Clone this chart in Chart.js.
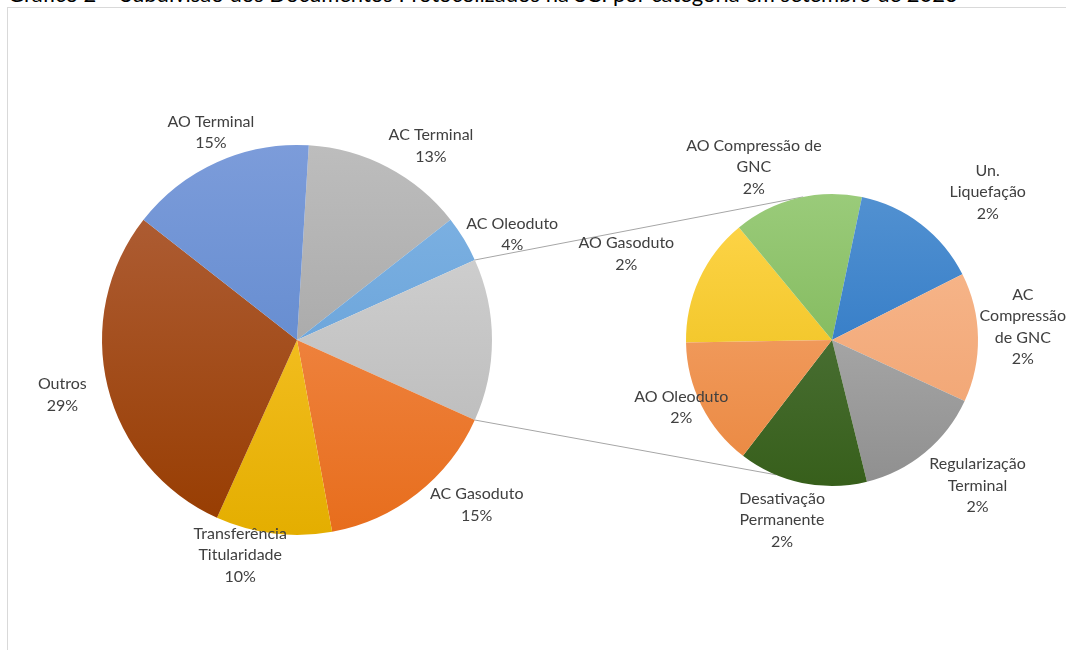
<!DOCTYPE html>
<html><head><meta charset="utf-8">
<script src="https://cdn.jsdelivr.net/npm/chart.js@4.4.1/dist/chart.umd.min.js"></script>
<style>
html,body{margin:0;padding:0;background:#fff;overflow:hidden;width:1066px;height:650px}
#title{position:absolute;left:8px;top:-17px;font:22px Lato, sans-serif;line-height:22px;color:#000;white-space:nowrap}
#frame{position:absolute;left:7px;top:7px;width:1200px;height:800px;border-left:1px solid #d9d9d9;border-top:1px solid #d9d9d9}
canvas{position:absolute;left:0;top:0}
</style></head><body>
<div id="title">Gráfico 2 – Subdivisão dos Documentos Protocolizados na SCI por categoria em setembro de 2023</div>
<div id="frame"></div>
<canvas id="c1" width="1066" height="650"></canvas>
<canvas id="c2" width="1066" height="650"></canvas>
<script>
// ---- data ----
const mainCategories = ['AC Terminal', 'AC Oleoduto', 'Demais categorias', 'AC Gasoduto', 'Transferência\nTitularidade', 'Outros', 'AO Terminal'];
const mainValues = [7, 2, null, 8, 5, 15, 8];   // null = aggregate of the secondary pie
const aggregateIndex = 2;
const subCategories = ['AO Gasoduto', 'AO Compressão de\nGNC', 'Un.\nLiquefação', 'AC\nCompressão\nde GNC', 'Regularização\nTerminal', 'Desativação\nPermanente', 'AO Oleoduto'];
const subValues = [1, 1, 1, 1, 1, 1, 1];

// ---- styles / layout ----
const mainColors = [['#bdbdbd','#9a9a9a'],['#82b5e5','#5a98d2'],['#d8d8d8','#b4b4b4'],['#f5955c','#e76d1c'],['#ffcb3c','#e4ae00'],['#b2633e','#973c00'],['#7c9cda','#5380c8']];
const subColors = [['#ffd64c','#e8bb10'],['#9acb7a','#72ae48'],['#5291d1','#1f6ec0'],['#f8bb92','#f0a06c'],['#bababa','#8f8f8f'],['#587c47','#375f1b'],['#f6aa74','#ea873f']];
// label placement: [angle deg clockwise from top, distance / radius]
const mainLabelPlace = [[34.6,1.21],[63.8,1.23],null,[132.5,1.25],[194.8,1.14],[256.8,1.236],[337.5,1.154]];
const subLabelPlace = [[292.7,1.527],[335.7,1.30],[46.5,1.47],[86.1,1.31],[135,1.41],[195.5,1.28],[246,1.13]];
const connectorTargets = [348.6, 202.6]; // angles on secondary pie
const LABEL_FONT = '16px Lato, sans-serif';
const LH = 21.5;

const aggValue = subValues.reduce((a,b)=>a+b,0);
const mainData = mainValues.map((v,i)=> i===aggregateIndex ? aggValue : v);
const total = mainData.reduce((a,b)=>a+b,0);
const pct = v => Math.round(v/total*100) + '%';

// rotation so that the aggregate slice is centred on the right (90°)
const before = mainData.slice(0, aggregateIndex).reduce((a,b)=>a+b,0);
const mainRotation = 90 - (before + aggValue/2)/total*360;

function grad(pairs){
  return (ctx)=>{
    const ch = ctx.chart, a = ch.chartArea;
    const p = pairs[ctx.dataIndex] || pairs[0];
    if(!a) return p[0];
    const g = ch.ctx.createLinearGradient(0, a.top, 0, a.bottom);
    g.addColorStop(0, p[0]); g.addColorStop(1, p[1]);
    return g;
  };
}

function labelPlugin(id, cats, values, place){
  return {id, afterDatasetsDraw(chart){
    const arcs = chart.getDatasetMeta(0).data;
    const c = chart.ctx;
    c.save();
    c.font = LABEL_FONT; c.fillStyle = '#404040'; c.textAlign = 'center'; c.textBaseline = 'middle';
    cats.forEach((name,i)=>{
      const p = place[i]; if(!p) return;
      const arc = arcs[i];
      const ang = p[0]*Math.PI/180;
      const x = arc.x + arc.outerRadius*p[1]*Math.sin(ang);
      const y = arc.y - arc.outerRadius*p[1]*Math.cos(ang);
      const lines = name.split('\n').concat([pct(values[i])]);
      const n = lines.length;
      lines.forEach((t,k)=> c.fillText(t, x, y + (k-(n-1)/2)*LH));
    });
    c.restore();
  }};
}

const common = {
  responsive:false, animation:false, devicePixelRatio:1,
  plugins:{legend:{display:false}, tooltip:{enabled:false}, title:{display:false}},
  events:[]
};

const chart1 = new Chart(document.getElementById('c1'), {
  type:'pie',
  data:{labels:mainCategories, datasets:[{data:mainData, backgroundColor:grad(mainColors), borderWidth:0}]},
  options:Object.assign({}, common, {rotation:mainRotation, layout:{padding:{left:102,right:574,top:145,bottom:115}}}),
  plugins:[labelPlugin('mainLabels', mainCategories, mainData, mainLabelPlace)]
});

const connector = {id:'connector', beforeDatasetsDraw(chart){
  const agg = chart1.getDatasetMeta(0).data[aggregateIndex];
  const sub = chart.getDatasetMeta(0).data[0];
  const c = chart.ctx;
  const pts = [agg.startAngle, agg.endAngle].map(a=>[agg.x+agg.outerRadius*Math.cos(a), agg.y+agg.outerRadius*Math.sin(a)]);
  const tg = connectorTargets.map(d=>{const a=d*Math.PI/180; return [sub.x+sub.outerRadius*Math.sin(a), sub.y-sub.outerRadius*Math.cos(a)];});
  c.save(); c.strokeStyle='#a6a6a6'; c.lineWidth=1;
  for(let k=0;k<2;k++){ c.beginPath(); c.moveTo(pts[k][0],pts[k][1]); c.lineTo(tg[k][0],tg[k][1]); c.stroke(); }
  c.restore();
}};

const chart2 = new Chart(document.getElementById('c2'), {
  type:'pie',
  data:{labels:subCategories, datasets:[{data:subValues, backgroundColor:grad(subColors), borderWidth:0}]},
  options:Object.assign({}, common, {rotation:269, layout:{padding:{left:686,right:88,top:194,bottom:164}}}),
  plugins:[connector, labelPlugin('subLabels', subCategories, subValues, subLabelPlace)]
});
</script>
</body></html>
